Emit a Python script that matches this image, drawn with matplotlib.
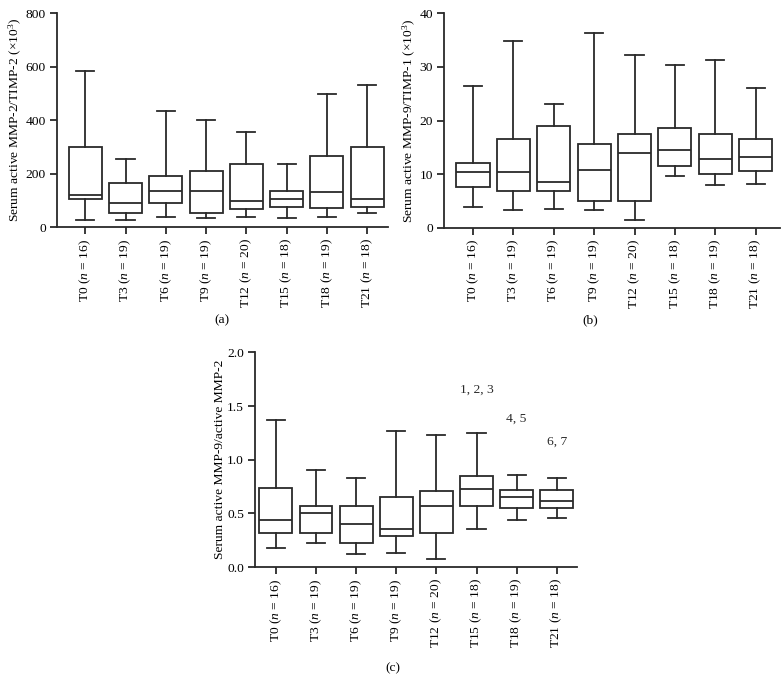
import matplotlib
matplotlib.use("Agg")
import matplotlib.pyplot as plt

plt.rcParams["font.family"] = ["Liberation Serif", "DejaVu Serif"]
plt.rcParams["mathtext.fontset"] = "custom"
plt.rcParams["mathtext.rm"] = "Liberation Serif"
plt.rcParams["mathtext.it"] = "Liberation Serif:italic"
plt.rcParams["font.size"] = 9.7

groups = ["T0", "T3", "T6", "T9", "T12", "T15", "T18", "T21"]
n_values = [16, 19, 19, 19, 20, 18, 19, 18]

# (a) MMP-2/TIMP-2 (x10^3)
a_min = [26, 29, 39, 34, 40, 34, 40, 55]
a_q1 = [104, 54, 91, 55, 67, 76, 72, 76]
a_med = [119, 91, 137, 137, 100, 104, 130, 106]
a_q3 = [300, 166, 192, 210, 236, 136, 267, 300]
a_max = [585, 256, 436, 401, 355, 237, 497, 533]

# (b) MMP-9/TIMP-1 (x10^3)
b_min = [3.9, 3.4, 3.5, 3.3, 1.4, 9.7, 8.0, 8.2]
b_q1 = [7.65, 6.8, 6.8, 5.0, 5.0, 11.5, 10.0, 10.7]
b_med = [10.5, 10.5, 8.5, 10.8, 13.9, 14.6, 12.9, 13.2]
b_q3 = [12.1, 16.6, 19.0, 15.7, 17.5, 18.7, 17.5, 16.5]
b_max = [26.5, 34.8, 23.1, 36.4, 32.2, 30.3, 31.2, 26.0]

# (c) MMP-9/MMP-2
c_min = [0.18, 0.22, 0.12, 0.13, 0.075, 0.357, 0.44, 0.46]
c_q1 = [0.32, 0.32, 0.22, 0.29, 0.32, 0.57, 0.547, 0.553]
c_med = [0.435, 0.506, 0.40, 0.357, 0.57, 0.727, 0.65, 0.62]
c_q3 = [0.74, 0.57, 0.57, 0.65, 0.71, 0.85, 0.72, 0.72]
c_max = [1.37, 0.90, 0.83, 1.27, 1.23, 1.25, 0.86, 0.83]

c_notes = ["1, 2, 3", "4, 5", "6, 7"]
c_note_groups = ["T15", "T18", "T21"]
c_note_y = [1.655, 1.385, 1.17]

labels = [f"{g} ($n$ = {n})" for g, n in zip(groups, n_values)]
ink = "#2a2a2a"


def draw_panel(ax, mins, q1s, meds, q3s, maxs, ylim, yticks, ytlabels, ylabel, xlim):
    stats = []
    for lo, q1, med, q3, hi in zip(mins, q1s, meds, q3s, maxs):
        stats.append({"whislo": lo, "q1": q1, "med": med, "q3": q3, "whishi": hi, "fliers": []})
    ax.bxp(stats, positions=range(len(stats)), widths=0.82, showfliers=False,
           patch_artist=True,
           boxprops=dict(facecolor="white", edgecolor=ink, linewidth=1.3),
           medianprops=dict(color=ink, linewidth=1.3),
           whiskerprops=dict(color=ink, linewidth=1.3),
           capprops=dict(color=ink, linewidth=1.3),
           capwidths=0.45)
    ax.set_xlim(*xlim)
    ax.set_ylim(*ylim)
    ax.set_yticks(yticks)
    ax.set_yticklabels(ytlabels)
    ax.set_xticks(range(len(labels)))
    ax.set_xticklabels(labels, rotation=90)
    ax.set_ylabel(ylabel, labelpad=1)
    for s in ["top", "right"]:
        ax.spines[s].set_visible(False)
    for s in ["left", "bottom"]:
        ax.spines[s].set_color(ink)
        ax.spines[s].set_linewidth(1.3)
    ax.tick_params(direction="out", length=5, width=1.3, color=ink, pad=3)


fig = plt.figure(figsize=(7.83, 6.95), dpi=100)

ax_a = fig.add_axes([0.0728, 0.673, 0.423, 0.308])
draw_panel(ax_a, a_min, a_q1, a_med, a_q3, a_max, (0, 800), [0, 200, 400, 600, 800],
           ["0", "200", "400", "600", "800"],
           r"Serum active MMP-2/TIMP-2 ($\times$10$^{3}$)", (-0.7, 7.52))

ax_b = fig.add_axes([0.567, 0.672, 0.429, 0.309])
draw_panel(ax_b, b_min, b_q1, b_med, b_q3, b_max, (0, 40), [0, 10, 20, 30, 40],
           ["0", "10", "20", "30", "40"],
           r"Serum active MMP-9/TIMP-1 ($\times$10$^{3}$)", (-0.72, 7.6))

ax_c = fig.add_axes([0.3257, 0.184, 0.411, 0.309])
draw_panel(ax_c, c_min, c_q1, c_med, c_q3, c_max, (0, 2.0), [0, 0.5, 1.0, 1.5, 2.0],
           ["0.0", "0.5", "1.0", "1.5", "2.0"],
           "Serum active MMP-9/active MMP-2", (-0.52, 7.5))
for note, g, y in zip(c_notes, c_note_groups, c_note_y):
    ax_c.text(groups.index(g), y, note, ha="center", va="center", color=ink)

fig.text(222 / 783, 1 - 320 / 695, "(a)", ha="center", va="center")
fig.text(590 / 783, 1 - 320 / 695, "(b)", ha="center", va="center")
fig.text(393 / 783, 1 - 668 / 695, "(c)", ha="center", va="center")

fig.savefig("out.png", dpi=100)
